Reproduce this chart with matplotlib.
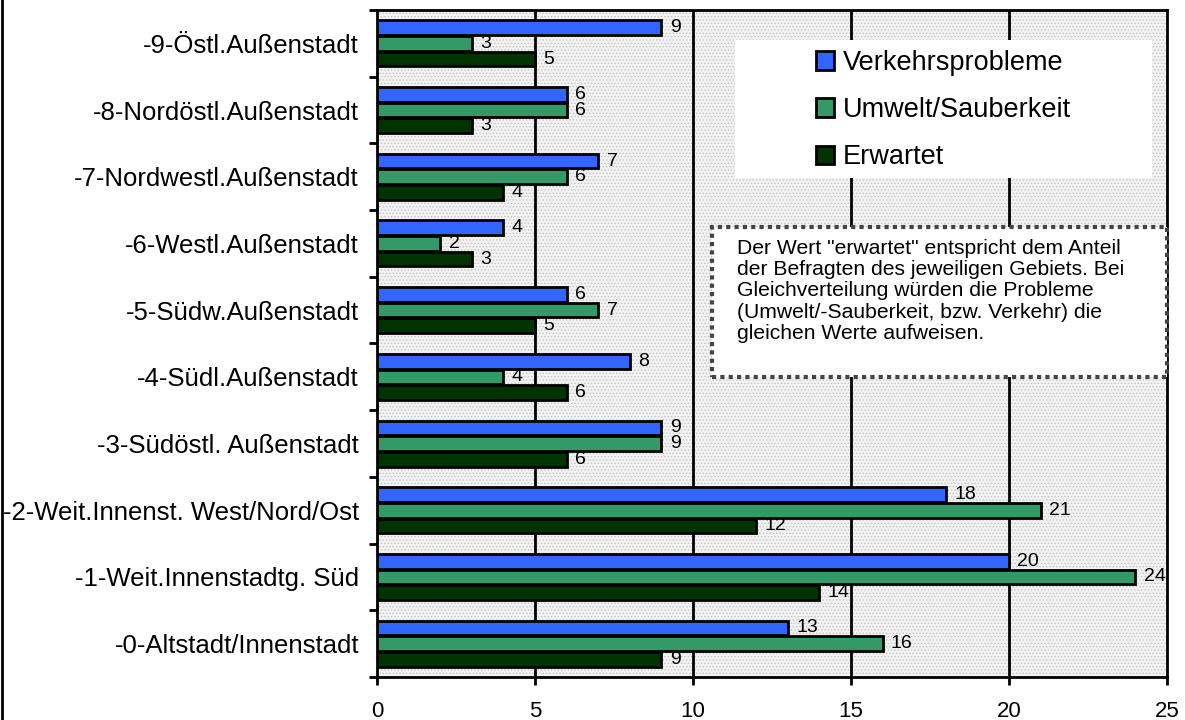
import matplotlib.pyplot as plt
import matplotlib.patches as mpatches
import numpy as np

plt.rcParams['font.family'] = ['Liberation Sans', 'DejaVu Sans']
plt.rcParams['hatch.linewidth'] = 0.6

gebiete = ['-0-Altstadt/Innenstadt', '-1-Weit.Innenstadtg. Süd', '-2-Weit.Innenst. West/Nord/Ost',
           '-3-Südöstl. Außenstadt', '-4-Südl.Außenstadt', '-5-Südw.Außenstadt',
           '-6-Westl.Außenstadt', '-7-Nordwestl.Außenstadt', '-8-Nordöstl.Außenstadt',
           '-9-Östl.Außenstadt']
verkehr = [13, 20, 18, 9, 8, 6, 4, 7, 6, 9]
umwelt = [16, 24, 21, 9, 4, 7, 2, 6, 6, 3]
erwartet = [9, 14, 12, 6, 6, 5, 3, 4, 3, 5]

note = ('Der Wert "erwartet" entspricht dem Anteil\n'
        'der Befragten des jeweiligen Gebiets. Bei\n'
        'Gleichverteilung würden die Probleme\n'
        '(Umwelt/-Sauberkeit, bzw. Verkehr) die\n'
        'gleichen Werte aufweisen.')

fig = plt.figure(figsize=(11.85, 7.2), dpi=100)
ax = fig.add_axes([377 / 1185, 1 - 677 / 720, 790 / 1185, 667 / 720])
ax.set_facecolor('#f2f2f2')
# stippled plot background
ax.add_patch(mpatches.Rectangle((0, 0), 1, 1, transform=ax.transAxes, facecolor='none',
                                edgecolor='#c4c4c4', hatch='.....', linewidth=0, zorder=0))

y = np.arange(len(gebiete))
h = 0.22
off = 0.235
series = [(verkehr, off, '#3366ff', 'Verkehrsprobleme'),
          (umwelt, 0, '#339966', 'Umwelt/Sauberkeit'),
          (erwartet, -off, '#003300', 'Erwartet')]
for vals, dy, col, lab in series:
    bars = ax.barh(y + dy, vals, height=h, color=col, edgecolor='black', linewidth=2,
                   label=lab, zorder=3)
    for b, v in zip(bars, vals):
        ax.annotate(str(v), (v, b.get_y() + b.get_height() / 2), xytext=(6, 0),
                    textcoords='offset points', va='center', ha='left', fontsize=14, zorder=4)

ax.set_xlim(0, 25)
ax.set_ylim(-0.5, 9.5)
ax.set_xticks([0, 5, 10, 15, 20, 25])
ax.tick_params(axis='x', labelsize=16, length=6, width=2, direction='out', pad=11)
ax.set_yticks(y)
ax.set_yticklabels(gebiete, fontsize=18.5)
ax.tick_params(axis='y', length=0, pad=13)
ax.set_yticks(np.arange(-0.5, 10, 1), minor=True)
ax.tick_params(axis='y', which='minor', length=6, width=2, direction='out')
for s in ax.spines.values():
    s.set_linewidth(2)
for gx in [5, 10, 15, 20]:
    ax.axvline(gx, color='black', linewidth=2, zorder=1)

# white box behind the legend
ax.add_patch(mpatches.Rectangle((0.453, 0.748), 0.528, 0.207, transform=ax.transAxes,
                                facecolor='white', edgecolor='none', zorder=5))
leg = ax.legend(loc='upper left', bbox_to_anchor=(0.556, 0.94), fontsize=19.5, frameon=False,
                handlelength=0.67, handleheight=0.67, handletextpad=0.3, labelspacing=0.78,
                borderpad=0, borderaxespad=0)
leg.set_zorder(6)

# note box with dotted border
ax.add_patch(mpatches.Rectangle((0.424, 0.45), 0.576, 0.225, transform=ax.transAxes,
                                facecolor='white', edgecolor='#444444', linewidth=3,
                                linestyle=(0, (1, 1)), zorder=5, clip_on=False))
ax.text(0.456, 0.657, note, transform=ax.transAxes, fontsize=15.2, va='top', ha='left',
        linespacing=1.15, zorder=6)

fig.add_artist(plt.Line2D([0.002, 0.002], [0, 1], color='black', linewidth=2))

fig.savefig('out.png', dpi=100)
